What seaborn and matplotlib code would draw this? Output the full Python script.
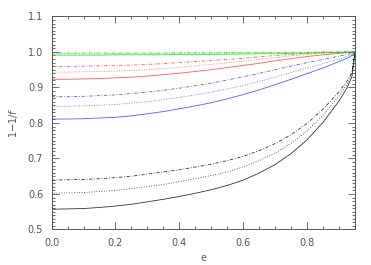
import numpy as np
import pandas as pd
import seaborn as sns
import matplotlib
matplotlib.use('Agg')
import matplotlib.pyplot as plt
from matplotlib.ticker import MultipleLocator, FormatStrFormatter

# eccentricity grid the curves were read at
e = [0.0, 0.05, 0.1, 0.15, 0.2, 0.25, 0.3, 0.35, 0.4, 0.45, 0.5,
     0.55, 0.6, 0.65, 0.7, 0.75, 0.8, 0.85, 0.9, 0.925, 0.94, 0.95]

# black family
black_solid = [0.557, 0.558, 0.559, 0.562, 0.566, 0.571, 0.578, 0.585, 0.593, 0.602, 0.612,
               0.624, 0.639, 0.659, 0.683, 0.714, 0.753, 0.802, 0.862, 0.899, 0.930, 1.0]
black_dot = [0.602, 0.603, 0.604, 0.607, 0.610, 0.615, 0.621, 0.627, 0.635, 0.643, 0.652,
             0.662, 0.676, 0.694, 0.715, 0.743, 0.778, 0.822, 0.876, 0.909, 0.937, 1.0]
black_dashdot = [0.639, 0.640, 0.641, 0.643, 0.646, 0.650, 0.656, 0.662, 0.668, 0.676, 0.684,
                 0.694, 0.706, 0.722, 0.742, 0.767, 0.799, 0.839, 0.888, 0.918, 0.943, 1.0]

# blue family
blue_solid = [0.811, 0.811, 0.812, 0.814, 0.816, 0.820, 0.826, 0.832, 0.840, 0.848, 0.857,
              0.868, 0.880, 0.893, 0.908, 0.923, 0.939, 0.955, 0.973, 0.982, 0.990, 1.0]
blue_dot = [0.847, 0.847, 0.848, 0.850, 0.852, 0.856, 0.860, 0.866, 0.872, 0.879, 0.887,
            0.896, 0.905, 0.917, 0.929, 0.942, 0.955, 0.967, 0.980, 0.987, 0.993, 1.0]
blue_dashdot = [0.874, 0.874, 0.875, 0.877, 0.879, 0.883, 0.887, 0.892, 0.898, 0.905, 0.912,
                0.921, 0.930, 0.940, 0.950, 0.960, 0.970, 0.979, 0.988, 0.993, 0.996, 1.0]

# red family
red_solid = [0.923, 0.923, 0.924, 0.925, 0.927, 0.929, 0.932, 0.936, 0.940, 0.945, 0.950,
             0.956, 0.962, 0.968, 0.975, 0.981, 0.987, 0.992, 0.996, 0.998, 0.999, 1.0]
red_dot = [0.943, 0.943, 0.944, 0.945, 0.946, 0.948, 0.950, 0.953, 0.957, 0.961, 0.965,
           0.969, 0.974, 0.979, 0.984, 0.989, 0.993, 0.996, 0.998, 0.999, 1.0, 1.0]
red_dashdot = [0.959, 0.959, 0.960, 0.961, 0.962, 0.963, 0.965, 0.967, 0.970, 0.973, 0.976,
               0.979, 0.982, 0.986, 0.990, 0.993, 0.996, 0.998, 0.999, 1.0, 1.0, 1.0]

# green family
green_solid = [0.991, 0.991, 0.991, 0.991, 0.992, 0.992, 0.992, 0.992, 0.993, 0.993, 0.993,
               0.994, 0.994, 0.995, 0.995, 0.996, 0.997, 0.998, 0.999, 0.999, 1.0, 1.0]
green_dot = [0.995, 0.995, 0.995, 0.995, 0.995, 0.995, 0.995, 0.995, 0.996, 0.996, 0.996,
             0.997, 0.997, 0.997, 0.997, 0.998, 0.998, 0.999, 0.999, 1.0, 1.0, 1.0]
green_dashdot = [0.997, 0.997, 0.997, 0.997, 0.997, 0.997, 0.997, 0.997, 0.998, 0.998, 0.998,
                 0.998, 0.998, 0.999, 0.999, 0.999, 0.999, 1.0, 1.0, 1.0, 1.0, 1.0]

sns.set_style('ticks')
plt.rcParams['font.family'] = ['DejaVu Sans']

fig = plt.figure(figsize=(3.71, 2.65), dpi=100)
ax = fig.add_axes([0.139, 0.134, 0.818, 0.804])

styles = {'solid': '-', 'dot': (0, (1, 2)), 'dashdot': (0, (4, 2, 1, 2))}
curves = [
    (black_solid, 'black', 'solid'), (black_dot, 'black', 'dot'), (black_dashdot, 'black', 'dashdot'),
    (blue_solid, '#3030ff', 'solid'), (blue_dot, '#3030ff', 'dot'), (blue_dashdot, '#3030ff', 'dashdot'),
    (red_solid, '#ff3030', 'solid'), (red_dot, '#ff3030', 'dot'), (red_dashdot, '#ff3030', 'dashdot'),
    (green_solid, '#00e000', 'solid'), (green_dot, '#00e000', 'dot'), (green_dashdot, '#00e000', 'dashdot'),
]
for vals, col, st in curves:
    sns.lineplot(x=e, y=vals, ax=ax, color=col, linestyle=styles[st],
                 linewidth=0.6, estimator=None, sort=False, alpha=0.8)

ax.set_xlim(0, 0.95)
ax.set_ylim(0.5, 1.1)
ax.xaxis.set_major_locator(MultipleLocator(0.2))
ax.xaxis.set_minor_locator(MultipleLocator(0.05))
ax.yaxis.set_major_locator(MultipleLocator(0.1))
ax.yaxis.set_minor_locator(MultipleLocator(0.01))
ax.xaxis.set_major_formatter(FormatStrFormatter('%.1f'))
ax.yaxis.set_major_formatter(FormatStrFormatter('%.1f'))
ax.tick_params(which='both', direction='in', top=True, right=True,
               colors='#555555', labelsize=7, width=0.6)
ax.tick_params(which='major', length=5, pad=6)
ax.tick_params(which='minor', length=2.5)
for sp in ax.spines.values():
    sp.set_color('#555555')
    sp.set_linewidth(0.7)

ax.set_xlabel('e', fontsize=7, color='#555555', labelpad=4)
ax.set_ylabel('1\u22121/$f$', fontsize=7, color='#555555', labelpad=6)

fig.savefig('out.png', dpi=100)
